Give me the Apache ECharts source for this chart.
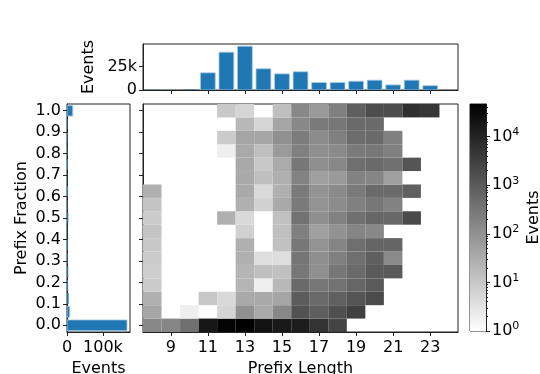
<!DOCTYPE html>
<html>
<head>
<meta charset="utf-8">
<script src="https://cdn.jsdelivr.net/npm/echarts@6/dist/echarts.min.js"></script>
<style>
  html, body { margin: 0; padding: 0; background: #fff; }
  #chart { width: 540px; height: 374px; }
</style>
</head>
<body>
<div id="chart"></div>
<script>
// bins: prefix length (x) and prefix fraction (y, steps of 1/16)
var prefixLengths = [8, 9, 10, 11, 12, 13, 14, 15, 16, 17, 18, 19, 20, 21, 22, 23, 24];
var prefixFractions = [0, 0.0625, 0.125, 0.1875, 0.25, 0.3125, 0.375, 0.4375, 0.5,
  0.5625, 0.625, 0.6875, 0.75, 0.8125, 0.875, 0.9375, 1];

// top histogram: events per prefix length
var eventsByLength = [330, 165, 420, 18200, 40000, 46400, 22500, 17100, 19300, 7900, 7900, 9300, 10400, 5400, 10400, 4600, 0];
// left histogram: events per prefix fraction
var eventsByFraction = [167000, 7500, 4700, 3000, 3400, 2100, 2400, 700, 3700, 1300, 2800, 800, 2800, 1400, 2000, 1900, 16000];

// 2d counts, one row per prefix length, fraction 0 -> 1
var cellCounts = [
  [150, 42, 28, 9, 8, 9, 10, 12, 9, 12, 28, 0, 0, 0, 0, 0, 0],                          // 8
  [165, 0, 0, 0, 0, 0, 0, 0, 0, 0, 0, 0, 0, 0, 0, 0, 0],                                // 9
  [415, 2, 0, 0, 0, 0, 0, 0, 0, 0, 0, 0, 0, 0, 0, 0, 0],                                // 10
  [18000, 0, 10, 0, 0, 0, 0, 0, 0, 0, 0, 0, 0, 0, 0, 0, 0],                             // 11
  [39000, 6, 5, 0, 0, 0, 0, 0, 28, 0, 0, 0, 0, 2, 9, 0, 10],                            // 12
  [46000, 108, 38, 23, 23, 28, 28, 7, 5, 28, 38, 38, 38, 38, 44, 20, 6],                // 13
  [22000, 38, 38, 2, 14, 4, 0, 0, 0, 7, 5, 15, 10, 15, 44, 6, 0],                       // 14
  [16500, 150, 44, 20, 14, 4, 14, 14, 14, 38, 28, 28, 35, 71, 108, 44, 15],             // 15
  [13500, 1500, 950, 535, 310, 330, 310, 210, 380, 275, 275, 190, 310, 210, 250, 150, 150], // 16
  [5500, 900, 535, 310, 112, 112, 95, 55, 112, 95, 95, 55, 112, 112, 128, 275, 71],     // 17
  [2650, 1670, 820, 380, 310, 212, 170, 95, 195, 128, 140, 71, 150, 140, 212, 310, 212], // 18
  [0, 3150, 1300, 635, 535, 435, 435, 170, 415, 212, 275, 195, 435, 275, 490, 535, 850], // 19
  [0, 0, 2000, 1050, 1050, 850, 660, 150, 635, 310, 535, 170, 535, 310, 535, 535, 1800], // 20
  [0, 0, 0, 0, 1050, 140, 660, 0, 580, 195, 535, 55, 415, 212, 212, 0, 1820],           // 21
  [0, 0, 0, 0, 0, 0, 0, 0, 2070, 0, 820, 0, 1300, 0, 0, 0, 6450],                       // 22
  [0, 0, 0, 0, 0, 0, 0, 0, 0, 0, 0, 0, 0, 0, 0, 0, 4800],                               // 23
  [0, 0, 0, 0, 0, 0, 0, 0, 0, 0, 0, 0, 0, 0, 0, 0, 0]                                   // 24
];

// tick labels
var lengthTicks = [9, 11, 13, 15, 17, 19, 21, 23];
var fractionTicks = [0, 0.1, 0.2, 0.3, 0.4, 0.5, 0.6, 0.7, 0.8, 0.9, 1.0];
var topEventTicks = [0, 25000];
var leftEventTicks = [0, 100000];
var colorbarTicks = [0, 1, 2, 3, 4]; // log10(events)

var LOG_MAX = Math.log10(46800);
var HALF_BIN = (prefixFractions[1] - prefixFractions[0]) / 2;
var FONT = 'DejaVu Sans';
var LINE = '#222';
var BLUE = '#1f77b4';

var chart = echarts.init(document.getElementById('chart'), null, { renderer: 'canvas' });

var heatData = [];
prefixLengths.forEach(function (len, i) {
  cellCounts[i].forEach(function (c, k) {
    if (c > 0) heatData.push([len, prefixFractions[k], c]);
  });
});
var topData = prefixLengths.map(function (len, i) { return [len, eventsByLength[i]]; });
var leftData = prefixFractions.map(function (f, i) { return [eventsByFraction[i], f]; });

var minorTicks = [];
for (var n = 0; n < 5; n++) {
  for (var m = 2; m < 10; m++) {
    var lv = Math.log10(m * Math.pow(10, n));
    if (lv < LOG_MAX) minorTicks.push(lv);
  }
}

function kFmt(v) { return v === 0 ? '0' : (v / 1000) + 'k'; }

function baseAxis(extra) {
  var a = {
    type: 'value',
    splitLine: { show: false },
    axisLine: { show: true, onZero: false, lineStyle: { color: LINE, width: 1 } },
    axisTick: { show: true, length: 4, lineStyle: { color: LINE, width: 1 } },
    axisLabel: { color: '#000', fontFamily: FONT, fontSize: 16 },
    nameTextStyle: { color: '#000', fontFamily: FONT, fontSize: 16 }
  };
  return echarts.util.merge(a, extra, true);
}

function barStyle(w, h) {
  // thin light edge like the reference, only on bars big enough to show it
  return Math.min(Math.abs(w), Math.abs(h)) > 2
    ? { fill: BLUE, stroke: '#a9c9e3', lineWidth: 0.8 }
    : { fill: BLUE };
}

function renderCell(params, api) {
  var len = api.value(0), f = api.value(1), c = api.value(2);
  var p0 = api.coord([len - 0.5, f + HALF_BIN]);
  var p1 = api.coord([len + 0.5, f - HALF_BIN]);
  var g = Math.round(255 * (1 - Math.log10(c) / LOG_MAX));
  return {
    type: 'rect',
    shape: { x: p0[0], y: p0[1], width: p1[0] - p0[0], height: p1[1] - p0[1] },
    style: { fill: 'rgb(' + g + ',' + g + ',' + g + ')' }
  };
}

function renderTopBar(params, api) {
  var len = api.value(0), v = api.value(1);
  if (!v) return null;
  var p0 = api.coord([len - 0.4, v]);
  var p1 = api.coord([len + 0.4, 0]);
  var w = p1[0] - p0[0], h = p1[1] - p0[1];
  return {
    type: 'rect',
    shape: { x: p0[0], y: p0[1], width: w, height: h },
    style: barStyle(w, h)
  };
}

function renderLeftBar(params, api) {
  var v = api.value(0), f = api.value(1);
  if (!v) return null;
  var p0 = api.coord([0, f + HALF_BIN * 0.8]);
  var p1 = api.coord([v, f - HALF_BIN * 0.8]);
  var w = p1[0] - p0[0], h = p1[1] - p0[1];
  return {
    type: 'rect',
    shape: { x: p0[0], y: p0[1], width: w, height: h },
    style: barStyle(w, h)
  };
}

function renderColorbar(params, api) {
  var p0 = api.coord([0, LOG_MAX]);
  var p1 = api.coord([1, 0]);
  return {
    type: 'rect',
    shape: { x: p0[0], y: p0[1], width: p1[0] - p0[0], height: p1[1] - p0[1] },
    style: {
      fill: new echarts.graphic.LinearGradient(0, 0, 0, 1, [
        { offset: 0, color: '#000000' },
        { offset: 1, color: '#ffffff' }
      ])
    }
  };
}

var gridBase = {
  show: true, borderColor: LINE, borderWidth: 1, backgroundColor: 'transparent',
  containLabel: false, outerBoundsMode: 'none'
};

var option = {
  animation: false,
  backgroundColor: '#fff',
  textStyle: { fontFamily: FONT },
  grid: [
    echarts.util.extend({ left: 143, top: 104, width: 315, height: 228 }, gridBase), // heatmap
    echarts.util.extend({ left: 143, top: 44, width: 315, height: 46 }, gridBase),   // top hist
    echarts.util.extend({ left: 67, top: 104, width: 63, height: 228 }, gridBase),   // left hist
    echarts.util.extend({ left: 470, top: 104, width: 16, height: 227 }, gridBase)   // colorbar
  ],
  xAxis: [
    baseAxis({
      gridIndex: 0, min: 7.5, max: 24.5,
      axisTick: { customValues: lengthTicks },
      axisLabel: { customValues: lengthTicks, margin: 8 },
      name: 'Prefix Length', nameLocation: 'middle', nameGap: 26
    }),
    baseAxis({
      gridIndex: 1, min: 7.5, max: 24.5,
      axisTick: { customValues: lengthTicks },
      axisLabel: { show: false }
    }),
    baseAxis({
      gridIndex: 2, min: 0, max: 175350,
      axisTick: { customValues: leftEventTicks },
      axisLabel: { customValues: leftEventTicks, formatter: kFmt, margin: 8 },
      name: 'Events', nameLocation: 'middle', nameGap: 26
    }),
    { gridIndex: 3, type: 'value', min: 0, max: 1, show: false }
  ],
  yAxis: [
    baseAxis({
      gridIndex: 0, min: -HALF_BIN, max: 1 + HALF_BIN,
      axisTick: { customValues: fractionTicks },
      axisLabel: { show: false }
    }),
    baseAxis({
      gridIndex: 1, min: 0, max: 48720,
      axisTick: { customValues: topEventTicks },
      axisLabel: { customValues: topEventTicks, formatter: kFmt, margin: 6 },
      name: 'Events', nameLocation: 'middle', nameGap: 43
    }),
    baseAxis({
      gridIndex: 2, min: -HALF_BIN, max: 1 + HALF_BIN,
      axisTick: { customValues: fractionTicks },
      axisLabel: {
        customValues: fractionTicks, margin: 6,
        formatter: function (v) { return v.toFixed(1); }
      },
      name: 'Prefix Fraction', nameLocation: 'middle', nameGap: 37
    }),
    baseAxis({
      gridIndex: 3, position: 'right', min: 0, max: LOG_MAX,
      axisTick: { customValues: colorbarTicks },
      axisLabel: {
        customValues: colorbarTicks, margin: 6,
        formatter: function (v) { return '{b|10}{s|' + Math.round(v) + '}'; },
        rich: {
          b: { fontFamily: FONT, fontSize: 16, color: '#000' },
          s: { fontFamily: FONT, fontSize: 11, color: '#000', padding: [0, 0, 9, 0] }
        }
      },
      name: 'Events', nameLocation: 'middle', nameGap: 40, nameRotate: 90
    }),
    baseAxis({
      gridIndex: 3, position: 'right', min: 0, max: LOG_MAX,
      axisLine: { show: false },
      axisTick: { customValues: minorTicks, length: 2 },
      axisLabel: { show: false }
    })
  ],
  series: [
    {
      type: 'custom', xAxisIndex: 0, yAxisIndex: 0,
      renderItem: renderCell, data: heatData, clip: true
    },
    {
      type: 'custom', xAxisIndex: 1, yAxisIndex: 1,
      renderItem: renderTopBar, data: topData, clip: true
    },
    {
      type: 'custom', xAxisIndex: 2, yAxisIndex: 2,
      renderItem: renderLeftBar, data: leftData, clip: true
    },
    {
      type: 'custom', xAxisIndex: 3, yAxisIndex: 3,
      renderItem: renderColorbar, data: [[0, 0]], clip: true
    }
  ]
};

chart.setOption(option);
</script>
</body>
</html>
